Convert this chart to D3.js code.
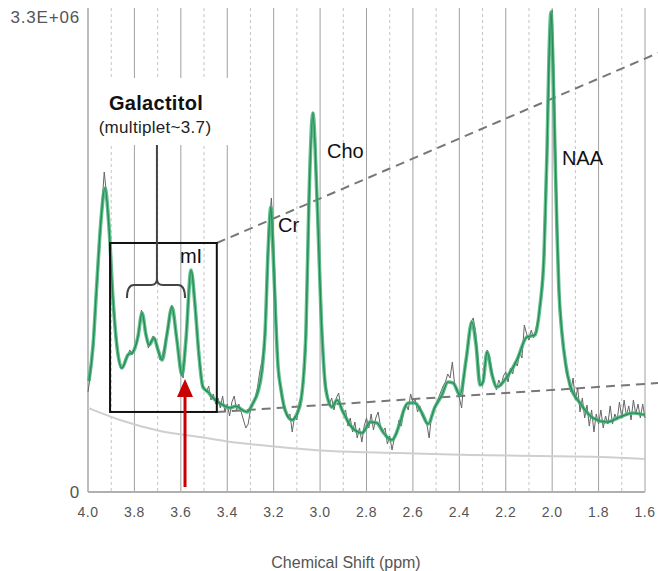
<!DOCTYPE html>
<html lang="en">
  <head>
    <meta charset="utf-8">
    <script src="https://d3js.org/d3.v7.min.js"></script>
    <title>MRS spectrum</title>
    <style>
      body { margin: 0; background: #fff; }
      text { font-family: "Liberation Sans", Arial, Helvetica, sans-serif; }
    </style>
  </head>
  <body>
  <script type="text/javascript">

    // amplitudes are in units of 1e6
    var xTicks = [4.0, 3.8, 3.6, 3.4, 3.2, 3.0, 2.8, 2.6, 2.4, 2.2, 2.0, 1.8, 1.6];
    var xMinorTicks = [3.9, 3.7, 3.5, 3.3, 3.1, 2.9, 2.7, 2.5, 2.3, 2.1, 1.9, 1.7];
    var yTicks = [0, 3.3];
    var yTickLabels = ["0", "3.3E+06"];

    // raw spectrum, sampled every 0.01 ppm from 4.00 down to 1.60
    var rawStart = 4.0;
    var rawStep = 0.01;
    var rawAmp = [0.695,0.806,0.973,1.264,1.487,1.751,1.994,2.223,2.063,1.834,
      1.508,1.299,1.091,0.952,0.861,0.861,0.903,0.945,0.987,0.952,
      1.000,1.028,1.139,1.264,1.209,1.084,1.000,1.042,1.084,1.070,
      0.987,0.917,0.945,1.021,1.112,1.230,1.299,1.209,1.084,0.952,
      0.834,0.792,1.000,1.299,1.528,1.528,1.348,1.091,0.917,0.764,
      0.723,0.695,0.736,0.639,0.681,0.611,0.653,0.584,0.667,0.556,
      0.611,0.528,0.625,0.667,0.570,0.611,0.556,0.500,0.445,0.472,
      0.570,0.611,0.653,0.723,0.834,0.917,1.056,1.334,1.820,2.042,
      1.751,1.264,0.861,0.695,0.611,0.556,0.514,0.542,0.417,0.528,
      0.500,0.625,0.667,0.834,1.125,1.820,2.376,2.640,2.411,1.924,
      1.403,1.056,0.813,0.695,0.611,0.653,0.570,0.653,0.688,0.584,
      0.542,0.570,0.458,0.514,0.417,0.486,0.375,0.445,0.347,0.458,
      0.514,0.445,0.542,0.431,0.514,0.556,0.458,0.417,0.445,0.333,
      0.389,0.292,0.375,0.403,0.500,0.458,0.556,0.611,0.570,0.681,
      0.625,0.639,0.556,0.598,0.528,0.500,0.472,0.375,0.528,0.570,
      0.611,0.653,0.695,0.736,0.764,0.820,0.792,0.903,0.743,0.723,
      0.653,0.584,0.792,0.931,1.070,1.181,1.209,1.112,0.945,0.750,
      0.736,0.882,0.987,0.945,0.848,0.750,0.709,0.778,0.736,0.806,
      0.834,0.764,0.861,0.820,0.903,0.875,0.973,0.931,1.160,1.098,
      1.056,1.125,1.070,1.139,1.209,1.334,1.542,1.855,2.515,3.105,
      3.349,2.758,2.028,1.438,1.160,0.987,0.834,0.778,0.695,0.792,
      0.639,0.723,0.556,0.653,0.514,0.604,0.458,0.570,0.417,0.542,
      0.472,0.570,0.445,0.528,0.472,0.598,0.472,0.542,0.500,0.625,
      0.514,0.639,0.528,0.598,0.500,0.639,0.542,0.611,0.514,0.611,
      0.514];

    // fitted spectrum
    var fitPpm = [3.996,3.978,3.961,3.944,3.927,3.910,3.892,3.875,3.854,3.828,
      3.806,3.785,3.767,3.750,3.737,3.716,3.698,3.681,3.660,3.638,
      3.617,3.595,3.578,3.556,3.539,3.522,3.505,3.483,3.461,3.440,
      3.410,3.388,3.362,3.336,3.315,3.289,3.268,3.250,3.237,3.224,
      3.212,3.203,3.181,3.168,3.151,3.121,3.100,3.082,3.061,3.048,
      3.031,3.013,2.992,2.975,2.949,2.927,2.901,2.871,2.845,2.819,
      2.802,2.785,2.755,2.729,2.707,2.690,2.673,2.656,2.639,2.621,
      2.591,2.561,2.535,2.505,2.475,2.449,2.427,2.397,2.371,2.346,
      2.328,2.311,2.298,2.281,2.259,2.238,2.195,2.152,2.109,2.074,
      2.053,2.035,2.022,2.014,2.005,1.997,1.988,1.979,1.971,1.958,
      1.941,1.923,1.880,1.824,1.764,1.708,1.652,1.600];
    var fitAmp = [0.771,1.021,1.473,1.890,2.112,1.855,1.334,1.007,0.861,0.952,
      0.973,1.077,1.244,1.091,1.021,1.070,0.986,0.917,1.091,1.285,
      1.056,0.813,1.056,1.542,1.299,0.952,0.729,0.695,0.653,0.625,
      0.597,0.584,0.597,0.570,0.556,0.618,0.695,0.848,1.105,1.681,
      1.980,1.681,0.868,0.709,0.570,0.500,0.542,0.639,1.105,2.028,
      2.633,2.028,1.105,0.709,0.590,0.639,0.556,0.465,0.424,0.410,
      0.445,0.486,0.479,0.417,0.375,0.361,0.403,0.479,0.570,0.618,
      0.618,0.549,0.472,0.590,0.674,0.764,0.757,0.674,0.917,1.181,
      1.021,0.743,0.764,0.973,0.813,0.729,0.799,0.917,1.077,1.091,
      1.285,1.646,2.376,3.001,3.335,3.001,2.376,1.799,1.403,1.105,
      0.882,0.743,0.618,0.514,0.486,0.521,0.549,0.535];

    // baseline estimate
    var basePpm = [4.000,3.862,3.690,3.517,3.345,3.173,2.957,2.656,2.354,2.053,1.794,1.600];
    var baseAmp = [0.584,0.500,0.424,0.382,0.340,0.313,0.285,0.271,0.257,0.250,0.243,0.229];

    var peakLabels = ["Cr", "Cho", "NAA", "mI"];

    var width = 658;
    var height = 571;

    var x = d3.scaleLinear().domain([4.0, 1.6]).range([88, 645]);
    var y = d3.scaleLinear().domain([0, 3.3]).range([492, 17]);
    var plotTop = 8;

    var svg = d3.select("body").append("svg")
      .attr("width", width)
      .attr("height", height);

    // grid
    svg.append("g").selectAll("line")
      .data(xMinorTicks).enter().append("line")
        .attr("x1", function(d) { return x(d); })
        .attr("x2", function(d) { return x(d); })
        .attr("y1", plotTop).attr("y2", y(0))
        .style("stroke", "#c4c4c4")
        .style("stroke-width", 1)
        .style("stroke-dasharray", "3,3");

    svg.append("g").selectAll("line")
      .data(xTicks.slice(1)).enter().append("line")
        .attr("x1", function(d) { return x(d); })
        .attr("x2", function(d) { return x(d); })
        .attr("y1", plotTop).attr("y2", y(0))
        .style("stroke", "#a0a0a0")
        .style("stroke-width", 1);

    // axes
    svg.append("line")
      .attr("x1", x(4.0)).attr("x2", x(4.0))
      .attr("y1", plotTop).attr("y2", y(0))
      .style("stroke", "#bdbdbd").style("stroke-width", 2);
    svg.append("line")
      .attr("x1", x(4.0)).attr("x2", x(1.6))
      .attr("y1", y(0)).attr("y2", y(0))
      .style("stroke", "#b0b0b0").style("stroke-width", 2);

    svg.append("g").selectAll("text")
      .data(xTicks).enter().append("text")
        .attr("x", function(d) { return x(d); })
        .attr("y", 517)
        .attr("text-anchor", "middle")
        .style("font-size", "14px")
        .style("letter-spacing", "0.5px")
        .style("fill", "#555")
        .text(function(d) { return d.toFixed(1); });

    svg.append("g").selectAll("text")
      .data(yTicks).enter().append("text")
        .attr("x", 80)
        .attr("y", function(d) { return y(d) + 6; })
        .attr("text-anchor", "end")
        .style("font-size", "17px")
        .style("letter-spacing", "0.8px")
        .style("fill", "#555")
        .text(function(d, i) { return yTickLabels[i]; });

    svg.append("text")
      .attr("x", 346)
      .attr("y", 568)
      .attr("text-anchor", "middle")
      .style("font-size", "16px")
      .style("fill", "#555")
      .text("Chemical Shift (ppm)");

    // baseline curve
    var baseData = basePpm.map(function(p, i) { return [p, baseAmp[i]]; });
    svg.append("path")
      .datum(baseData)
      .attr("d", d3.line()
        .x(function(d) { return x(d[0]); })
        .y(function(d) { return y(d[1]); })
        .curve(d3.curveMonotoneX))
      .style("fill", "none")
      .style("stroke", "#cfcfcf")
      .style("stroke-width", 2);

    // white label background, cuts the grid
    svg.append("rect")
      .attr("x", 91).attr("y", 78)
      .attr("width", 141).attr("height", 67)
      .style("fill", "#fff");

    // zoom guide lines from the box
    var box = {left: 3.905, right: 3.445, low: 0.556, high: 1.73};
    svg.append("line")
      .attr("x1", x(box.right)).attr("y1", y(box.high))
      .attr("x2", width).attr("y2", y(3.05))
      .style("stroke", "#777").style("stroke-width", 2)
      .style("stroke-dasharray", "9,6");
    svg.append("line")
      .attr("x1", x(box.right)).attr("y1", y(box.low))
      .attr("x2", width).attr("y2", y(0.757))
      .style("stroke", "#777").style("stroke-width", 2)
      .style("stroke-dasharray", "9,6");

    // raw
    var rawData = rawAmp.map(function(a, i) { return [rawStart - i * rawStep, a]; });
    svg.append("path")
      .datum(rawData)
      .attr("d", d3.line()
        .x(function(d) { return x(d[0]); })
        .y(function(d) { return y(d[1]); }))
      .style("fill", "none")
      .style("stroke", "#666")
      .style("stroke-width", 1);

    // fit
    var fitData = fitPpm.map(function(p, i) { return [p, fitAmp[i]]; });
    var fitLine = d3.line()
      .x(function(d) { return x(d[0]); })
      .y(function(d) { return y(d[1]); })
      .curve(d3.curveMonotoneX);
    svg.append("path")
      .datum(fitData)
      .attr("d", fitLine)
      .style("fill", "none")
      .style("stroke", "#45b27a")
      .style("stroke-width", 3.6)
      .style("stroke-opacity", 0.85)
      .style("stroke-linejoin", "round");
    svg.append("path")
      .datum(fitData)
      .attr("d", fitLine)
      .style("fill", "none")
      .style("stroke", "#238a50")
      .style("stroke-width", 1.1);

    // box
    svg.append("rect")
      .attr("x", x(box.left)).attr("y", y(box.high))
      .attr("width", x(box.right) - x(box.left))
      .attr("height", y(box.low) - y(box.high))
      .style("fill", "none")
      .style("stroke", "#111")
      .style("stroke-width", 2);

    // bracket
    var bx0 = x(3.832), bx1 = x(3.582), bm = x(3.703);
    var by = y(1.438), byEnd = y(1.348), byTip = y(1.48);
    svg.append("path")
      .attr("d", "M" + bm + "," + y(2.411) + "L" + bm + "," + byTip)
      .style("fill", "none").style("stroke", "#444").style("stroke-width", 2);
    svg.append("path")
      .attr("d", "M" + bx0 + "," + byEnd +
        "Q" + bx0 + "," + by + " " + (bx0 + 7) + "," + by +
        "L" + (bm - 6) + "," + by +
        "Q" + bm + "," + by + " " + bm + "," + byTip +
        "Q" + bm + "," + by + " " + (bm + 6) + "," + by +
        "L" + (bx1 - 7) + "," + by +
        "Q" + bx1 + "," + by + " " + bx1 + "," + byEnd)
      .style("fill", "none").style("stroke", "#444").style("stroke-width", 2);

    svg.append("text")
      .attr("x", 156).attr("y", 110)
      .attr("text-anchor", "middle")
      .style("font-size", "20px")
      .style("font-weight", "bold")
      .style("letter-spacing", "0.3px")
      .style("fill", "#111")
      .text("Galactitol");
    svg.append("text")
      .attr("x", 155).attr("y", 133)
      .attr("text-anchor", "middle")
      .style("font-size", "17px")
      .style("letter-spacing", "0.3px")
      .style("fill", "#222")
      .text("(multiplet~3.7)");

    // peak labels
    var labelPos = [[3.181, 1.806], [2.970, 2.320], [1.958, 2.272], [3.604, 1.591]];
    svg.append("g").selectAll("text")
      .data(peakLabels).enter().append("text")
        .attr("x", function(d, i) { return x(labelPos[i][0]); })
        .attr("y", function(d, i) { return y(labelPos[i][1]); })
        .style("font-size", "20px")
        .style("fill", "#111")
        .text(function(d) { return d; });

    // red arrow
    var ax = x(3.582);
    svg.append("line")
      .attr("x1", ax).attr("x2", ax)
      .attr("y1", 487).attr("y2", 395)
      .style("stroke", "#c80000").style("stroke-width", 3);
    svg.append("path")
      .attr("d", "M" + ax + ",379L" + (ax - 8) + ",397L" + (ax + 8) + ",397Z")
      .style("fill", "#c80000");

  </script>
  </body>
</html>
